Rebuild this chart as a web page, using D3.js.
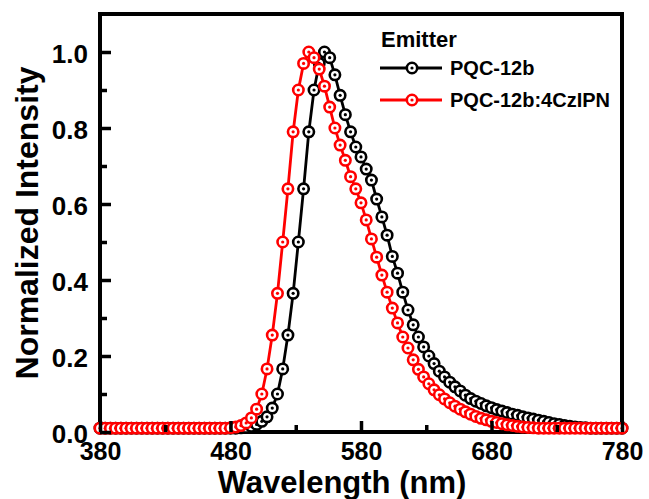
<!DOCTYPE html>
<html>
<head>
<meta charset="utf-8">
<script src="https://cdn.jsdelivr.net/npm/d3@7"></script>
<style>
  html, body { margin: 0; padding: 0; background: #fff; }
  svg { display: block; }
  text { font-family: "Liberation Sans", Arial, Helvetica, sans-serif; font-weight: bold; fill: #000; }
</style>
</head>
<body>
<svg id="chart" width="649" height="499"></svg>
<script>
// Emission wavelength grid (nm), 4 nm sampling
const wavelength = [
  380,384,388,392,396,400,404,408,412,416,420,424,428,432,436,440,444,448,452,456,
  460,464,468,472,476,480,484,488,492,496,500,504,508,512,516,520,524,528,532,536,
  540,544,548,552,556,560,564,568,572,576,580,584,588,592,596,600,604,608,612,616,
  620,624,628,632,636,640,644,648,652,656,660,664,668,672,676,680,684,688,692,696,
  700,704,708,712,716,720,724,728,732,736,740,744,748,752,756,760,764,768,772,776,
  780
];

// Normalized PL intensity, neat PQC-12b
const pqc12b = [
  0.010,0.010,0.010,0.010,0.010,0.010,0.010,0.010,0.010,0.010,0.010,0.010,0.010,0.010,0.010,0.010,0.010,0.010,0.010,0.010,
  0.010,0.010,0.010,0.010,0.010,0.010,0.010,0.011,0.012,0.015,0.020,0.028,0.040,0.063,0.100,0.166,0.255,0.365,0.500,0.640,
  0.790,0.900,0.970,1.000,0.985,0.940,0.886,0.835,0.790,0.750,0.724,0.692,0.663,0.613,0.566,0.518,0.462,0.418,0.368,0.321,
  0.282,0.250,0.224,0.200,0.180,0.160,0.145,0.131,0.119,0.108,0.097,0.088,0.081,0.075,0.069,0.064,0.059,0.055,0.051,0.047,
  0.044,0.040,0.037,0.034,0.031,0.028,0.025,0.022,0.020,0.017,0.015,0.013,0.012,0.011,0.010,0.010,0.010,0.010,0.010,0.010,
  0.010
];

// Normalized PL intensity, PQC-12b:4CzIPN
const pqc12b4CzIPN = [
  0.010,0.010,0.010,0.010,0.010,0.010,0.010,0.010,0.010,0.010,0.010,0.010,0.010,0.010,0.010,0.010,0.010,0.010,0.010,0.010,
  0.010,0.010,0.010,0.010,0.010,0.011,0.013,0.017,0.024,0.037,0.060,0.100,0.166,0.255,0.365,0.500,0.640,0.790,0.900,0.970,
  1.000,0.985,0.955,0.910,0.855,0.800,0.755,0.715,0.672,0.640,0.603,0.558,0.508,0.460,0.413,0.368,0.326,0.287,0.250,0.221,
  0.190,0.165,0.145,0.127,0.111,0.098,0.087,0.077,0.068,0.060,0.053,0.047,0.041,0.036,0.032,0.028,0.025,0.022,0.019,0.017,
  0.015,0.013,0.012,0.011,0.010,0.010,0.010,0.010,0.010,0.010,0.010,0.010,0.010,0.010,0.010,0.010,0.010,0.010,0.010,0.010,
  0.010
];

const seriesNames = ["PQC-12b", "PQC-12b:4CzIPN"];
const seriesColors = ["#000000", "#ff0000"];
const xTickValues = [380, 480, 580, 680, 780];
const xMinorValues = [430, 530, 630, 730];
const yTickValues = [0.0, 0.2, 0.4, 0.6, 0.8, 1.0];
const yMinorValues = [0.1, 0.3, 0.5, 0.7, 0.9];
const legendTitle = "Emitter";
const xTitle = "Wavelength (nm)";
const yTitle = "Normalized Intensity";

const svg = d3.select("#chart");
const plot = { left: 100, right: 622, top: 14, bottom: 432 };

const x = d3.scaleLinear().domain([380, 780]).range([plot.left, plot.right]);
const y = d3.scaleLinear().domain([0, 1.1]).range([plot.bottom, plot.top]);

const series = [pqc12b, pqc12b4CzIPN].map((vals, i) => ({
  name: seriesNames[i],
  color: seriesColors[i],
  points: wavelength.map((w, j) => ({ w, v: vals[j] }))
}));

// Frame around the plot area (drawn under the data)
svg.append("rect")
  .attr("x", plot.left).attr("y", plot.top)
  .attr("width", plot.right - plot.left).attr("height", plot.bottom - plot.top)
  .attr("fill", "none").attr("stroke", "#000").attr("stroke-width", 4);

// Data layer: connecting line, then ring markers with a centre dot
const line = d3.line().x(d => x(d.w)).y(d => y(d.v));
const gData = svg.append("g");

function drawMarker(g, cx, cy, color) {
  g.append("circle").attr("cx", cx).attr("cy", cy).attr("r", 5.2)
    .attr("fill", "#fff").attr("stroke", color).attr("stroke-width", 2.6);
  g.append("circle").attr("cx", cx).attr("cy", cy).attr("r", 1.6)
    .attr("fill", color);
}

series.forEach(s => {
  const g = gData.append("g");
  g.append("path").datum(s.points).attr("d", line)
    .attr("fill", "none").attr("stroke", s.color).attr("stroke-width", 2.8);
  s.points.forEach(p => drawMarker(g, x(p.w), y(p.v), s.color));
});

// Axes with inward major and minor ticks
function styleTicks(g) {
  g.select(".domain").remove();
  g.selectAll(".tick line").attr("stroke", "#000").attr("stroke-width", 3.5);
}

const gx = svg.append("g").attr("transform", `translate(0,${plot.bottom})`)
  .call(d3.axisBottom(x).tickValues(xTickValues).tickSizeInner(-11).tickSizeOuter(0)
    .tickFormat(d3.format("d")).tickPadding(10));
styleTicks(gx);
gx.selectAll(".tick text").attr("dy", "0.71em")
  .style("font-size", "25px").style("font-family", "'Liberation Sans', Arial, sans-serif")
  .style("font-weight", "bold").style("fill", "#000");

const gxm = svg.append("g").attr("transform", `translate(0,${plot.bottom})`)
  .call(d3.axisBottom(x).tickValues(xMinorValues).tickSizeInner(-7).tickSizeOuter(0).tickFormat(""));
styleTicks(gxm);

const gy = svg.append("g").attr("transform", `translate(${plot.left},0)`)
  .call(d3.axisLeft(y).tickValues(yTickValues).tickSizeInner(-11).tickSizeOuter(0)
    .tickFormat(d3.format(".1f")).tickPadding(12));
styleTicks(gy);
gy.selectAll(".tick text").attr("dy", "0.4em")
  .style("font-size", "26px").style("font-family", "'Liberation Sans', Arial, sans-serif")
  .style("font-weight", "bold").style("fill", "#000");

const gym = svg.append("g").attr("transform", `translate(${plot.left},0)`)
  .call(d3.axisLeft(y).tickValues(yMinorValues).tickSizeInner(-7).tickSizeOuter(0).tickFormat(""));
styleTicks(gym);

// Axis titles
svg.append("text").attr("x", 342).attr("y", 493).attr("text-anchor", "middle")
  .style("font-size", "31px").text(xTitle);
svg.append("text").attr("transform", `translate(38,${(plot.top + plot.bottom) / 2}) rotate(-90)`)
  .attr("text-anchor", "middle").style("font-size", "32px").text(yTitle);

// Legend
const lg = svg.append("g");
lg.append("text").attr("x", 381).attr("y", 47).style("font-size", "22px").text(legendTitle);
series.forEach((s, i) => {
  const ly = 68 + i * 32;
  lg.append("line").attr("x1", 380).attr("x2", 442).attr("y1", ly).attr("y2", ly)
    .attr("stroke", s.color).attr("stroke-width", 2.8);
  drawMarker(lg, 412, ly, s.color);
  lg.append("text").attr("x", 450).attr("y", ly + 7).style("font-size", "20px").text(s.name);
});
</script>
</body>
</html>
